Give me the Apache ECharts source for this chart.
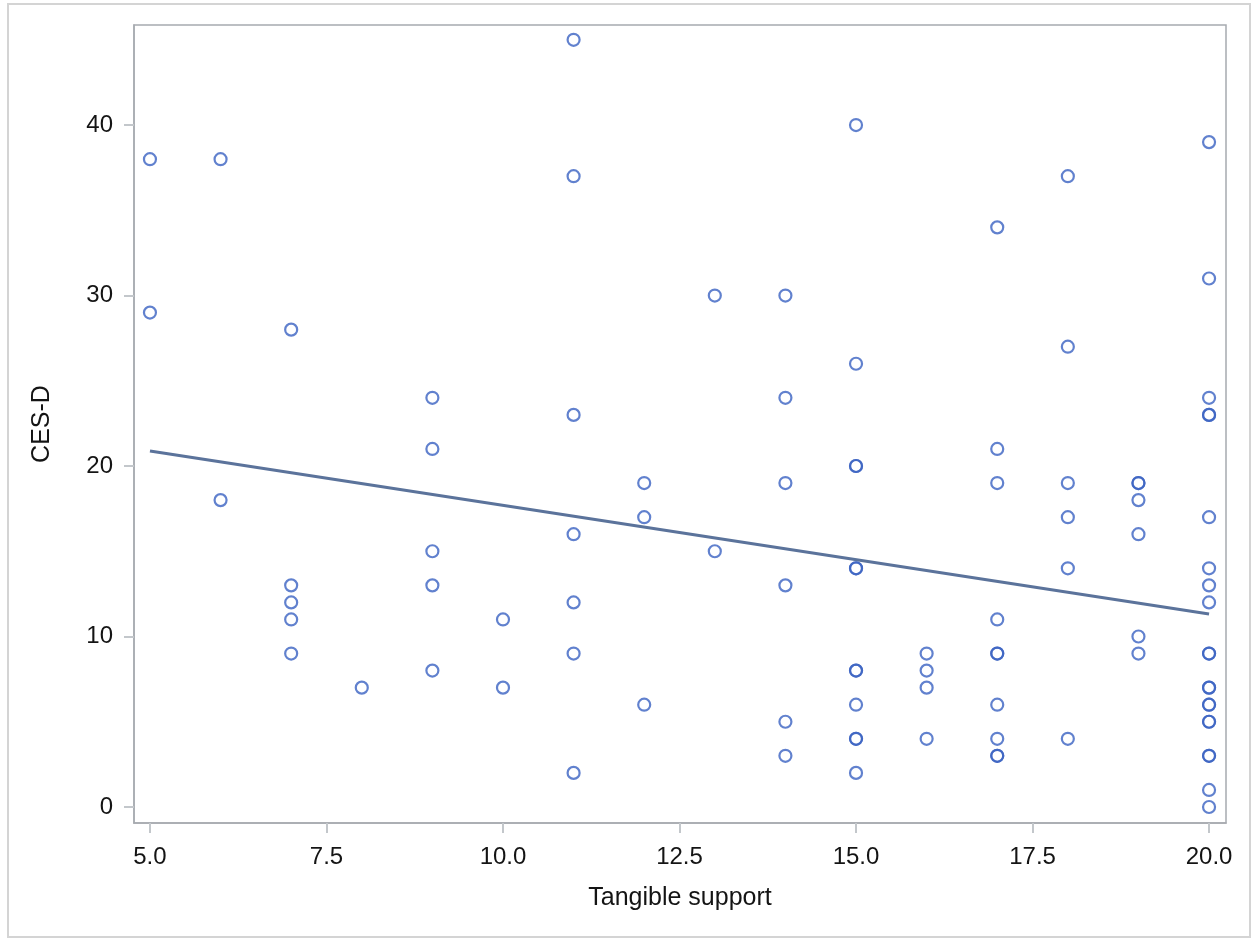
<!DOCTYPE html>
<html>
<head>
<meta charset="utf-8">
<script src="https://cdn.jsdelivr.net/npm/echarts@6/dist/echarts.min.js"></script>
<style>
html,body{margin:0;padding:0;background:#fff;}
#chart{width:1255px;height:938px;}
</style>
</head>
<body>
<div id="chart"></div>
<script>
// Tangible support levels (x) and CES-D scores observed at each level
const supportLevels = [5, 6, 7, 8, 9, 10, 11, 12, 13, 14, 15, 16, 17, 18, 19, 20];
const cesdGroups = [
  [38, 29],
  [38, 18],
  [28, 13, 12, 11, 9],
  [7],
  [24, 21, 15, 13, 8],
  [11, 7],
  [45, 37, 23, 16, 12, 9, 2],
  [19, 17, 6],
  [30, 15],
  [30, 24, 19, 13, 5, 3],
  [40, 26, 20, 20, 14, 14, 8, 8, 6, 4, 4, 2],
  [9, 8, 7, 4],
  [34, 21, 19, 11, 9, 9, 6, 4, 3, 3],
  [37, 27, 19, 17, 14, 4],
  [19, 19, 18, 16, 10, 9],
  [39, 31, 24, 23, 23, 17, 14, 13, 12, 9, 9, 7, 7, 6, 6, 5, 5, 3, 3, 1, 0]
];
// Fitted regression line end points
const fitX = [5, 20];
const fitY = [20.88, 11.32];
// Tick labels
const xTicks = [5, 7.5, 10, 12.5, 15, 17.5, 20];
const yTicks = [0, 10, 20, 30, 40];

const points = [];
supportLevels.forEach((x, i) => cesdGroups[i].forEach(y => points.push([x, y])));
const fitLine = fitX.map((x, i) => [x, fitY[i]]);

const FONT = "'Liberation Sans', Arial, sans-serif";
const TXT = '#141414';
const AXIS = '#a7abb0';
const TICK = '#c3c7cb';

const chart = echarts.init(document.getElementById('chart'), null, {renderer: 'canvas'});
chart.setOption({
  animation: false,
  backgroundColor: '#fff',
  textStyle: {fontFamily: FONT},
  graphic: [{
    type: 'rect',
    shape: {x: 8, y: 4, width: 1242, height: 933},
    style: {fill: 'none', stroke: '#d4d4d4', lineWidth: 2},
    silent: true, z: -10
  }],
  grid: {
    left: 134, right: 29, top: 25, bottom: 115,
    show: true, borderColor: AXIS, borderWidth: 1.5, backgroundColor: 'transparent'
  },
  xAxis: {
    type: 'value',
    min: 4.774, max: 20.24,
    name: 'Tangible support',
    nameLocation: 'middle',
    nameGap: 63,
    nameTextStyle: {fontSize: 25, color: TXT, fontFamily: FONT},
    axisLine: {show: true, onZero: false, lineStyle: {color: AXIS, width: 1.5}},
    axisTick: {show: true, inside: false, length: 10, customValues: xTicks, lineStyle: {color: TICK, width: 2}},
    axisLabel: {show: true, customValues: xTicks, margin: 22, fontSize: 24, color: TXT, fontFamily: FONT,
      formatter: v => Number(v).toFixed(1)},
    splitLine: {show: false}
  },
  yAxis: {
    type: 'value',
    min: -0.94, max: 45.87,
    name: 'CES-D',
    nameLocation: 'middle',
    nameGap: 79,
    nameRotate: 90,
    nameTextStyle: {fontSize: 25, color: TXT, fontFamily: FONT},
    axisLine: {show: true, onZero: false, lineStyle: {color: AXIS, width: 1.5}},
    axisTick: {show: true, inside: false, length: 10, customValues: yTicks, lineStyle: {color: TICK, width: 2}},
    axisLabel: {show: true, customValues: yTicks, margin: 21, fontSize: 24, color: TXT, fontFamily: FONT,
      formatter: v => String(Math.round(v))},
    splitLine: {show: false}
  },
  series: [
    {
      type: 'line',
      data: fitLine,
      symbol: 'none',
      lineStyle: {color: '#5b739b', width: 3},
      z: 2
    },
    {
      type: 'scatter',
      data: points,
      symbol: 'circle',
      symbolSize: 12,
      itemStyle: {color: 'rgba(255,255,255,0)', borderColor: '#3a62c2', borderWidth: 2.2},
      z: 3
    }
  ]
});
</script>
</body>
</html>
